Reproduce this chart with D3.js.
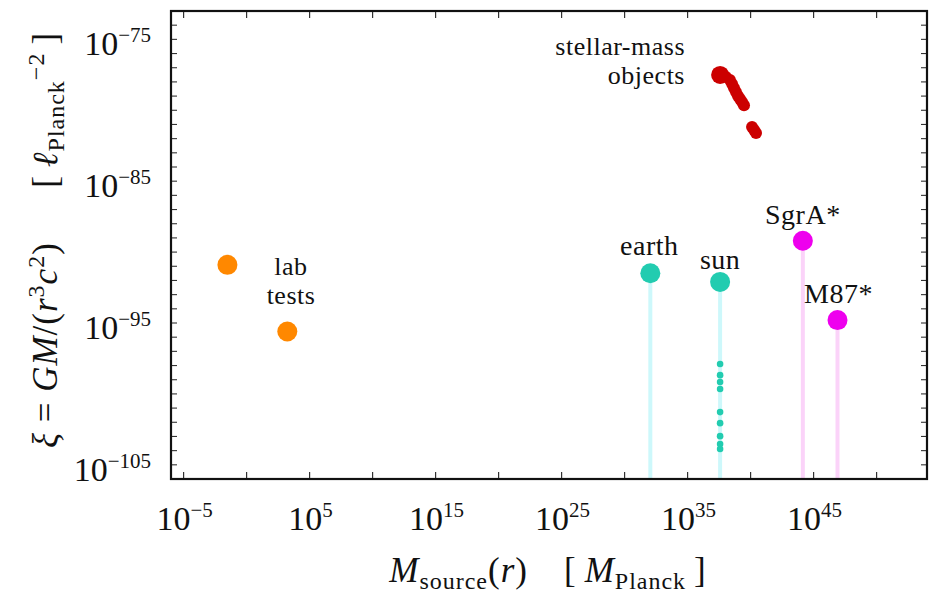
<!DOCTYPE html>
<html><head><meta charset="utf-8">
<script src="https://cdn.jsdelivr.net/npm/d3@7"></script>
<style>body{margin:0;background:#fff}svg{display:block}text{font-family:"Liberation Serif","DejaVu Serif",serif;fill:#111}</style>
</head><body><svg id="c" width="930" height="594"></svg>
<script>
// ---- data (M in Planck masses, xi in Planck length^-2) ----
const labM = [3.0e-2, 1.7e3];
const labXi = [1.26e-91, 2.5e-96];
const bodyNames = ["earth", "sun"];
const bodyM = [1.1e32, 3.8e37];
const bodyXi = [3.2e-92, 7.9e-93];
const bhNames = ["SgrA*", "M87*"];
const bhM = [1.4e44, 7.9e46];
const bhXi = [6.3e-90, 1.6e-95];
const sunInteriorM = [3.8e37, 3.8e37, 3.8e37, 3.8e37, 3.8e37, 3.8e37, 3.8e37, 3.8e37, 3.8e37];
const sunInteriorXi = [1.3e-98, 2.1e-99, 6.9e-100, 2.2e-100, 5.2e-102, 8.7e-103, 1.05e-103, 2.9e-104, 1.3e-104];
const stellarM = [3.8e37, 1.1e38, 2.3e38, 3.4e38, 4.8e38, 6.9e38, 1.0e39, 1.45e39, 2.1e39, 3.0e39, 1.3e40, 1.9e40, 2.7e40];
const stellarXi = [3.1e-78, 2.2e-78, 1.35e-78, 7.1e-79, 3.7e-79, 1.95e-79, 1.0e-79, 6.2e-80, 3.8e-80, 2.3e-80, 6.6e-82, 4.1e-82, 2.5e-82];
const xTickExp = [-5, 5, 15, 25, 35, 45];
const yTickExp = [-75, -85, -95, -105];

const svg = d3.select("#c");
const L = 171, R = 927, T = 11, B = 479;
const x = d3.scaleLog().domain([1e-6, 1e54]).range([L, R]);
const y = d3.scaleLog().domain([1e-106, 1e-73]).range([B, T]);

// vertical stems
const stemCyan = "#cdf8fb", stemPink = "#fbd3f9";
svg.selectAll(".stemB").data(bodyM).join("line")
  .attr("x1", d => x(d)).attr("x2", d => x(d))
  .attr("y1", (d, i) => y(bodyXi[i])).attr("y2", B)
  .attr("stroke", stemCyan).attr("stroke-width", 4);
svg.selectAll(".stemH").data(bhM).join("line")
  .attr("x1", d => x(d)).attr("x2", d => x(d))
  .attr("y1", (d, i) => y(bhXi[i])).attr("y2", B)
  .attr("stroke", stemPink).attr("stroke-width", 4);

// ticks
const g = svg.append("g");
const xMaj = d3.range(-5, 51, 5).map(e => Math.pow(10, e));
xMaj.forEach(v => {
  g.append("line").attr("x1", x(v)).attr("x2", x(v)).attr("y1", B).attr("y2", B - 7).attr("stroke", "#333").attr("stroke-width", 1.2);
  g.append("line").attr("x1", x(v)).attr("x2", x(v)).attr("y1", T).attr("y2", T + 7).attr("stroke", "#333").attr("stroke-width", 1.2);
});
const yMin = d3.range(-105, -73, 1).map(e => Math.pow(10, e));
yMin.forEach(v => {
  g.append("line").attr("x1", L).attr("x2", L + 6).attr("y1", y(v)).attr("y2", y(v)).attr("stroke", "#333").attr("stroke-width", 1.1);
  g.append("line").attr("x1", R).attr("x2", R - 6).attr("y1", y(v)).attr("y2", y(v)).attr("stroke", "#333").attr("stroke-width", 1.1);
});

// frame
svg.append("rect").attr("x", L).attr("y", T).attr("width", R - L).attr("height", B - T)
  .attr("fill", "none").attr("stroke", "#111").attr("stroke-width", 2.2);

// tick labels
xTickExp.forEach(e => {
  const t = svg.append("text").attr("x", x(Math.pow(10, e)) + 1).attr("y", 530).attr("text-anchor", "middle").style("font-size", "34px");
  t.append("tspan").text("10");
  t.append("tspan").attr("dy", -13).style("font-size", "21px").text(e < 0 ? "−" + (-e) : String(e));
});
yTickExp.forEach(e => {
  const t = svg.append("text").attr("x", 151).attr("y", y(Math.pow(10, e)) + 16).attr("text-anchor", "end").style("font-size", "34px");
  t.append("tspan").text("10");
  t.append("tspan").attr("dy", -13).style("font-size", "21px").text("−" + (-e));
});

// points
const teal = "#22ccb0", orange = "#ff8800", mag = "#ee00ee", red = "#cc0000";
svg.selectAll(".lab").data(labM).join("circle")
  .attr("cx", d => x(d)).attr("cy", (d, i) => y(labXi[i])).attr("r", 10).attr("fill", orange);
svg.selectAll(".body").data(bodyM).join("circle")
  .attr("cx", d => x(d)).attr("cy", (d, i) => y(bodyXi[i])).attr("r", 10).attr("fill", teal);
svg.selectAll(".bh").data(bhM).join("circle")
  .attr("cx", d => x(d)).attr("cy", (d, i) => y(bhXi[i])).attr("r", 10).attr("fill", mag);
svg.selectAll(".sunin").data(sunInteriorM).join("circle")
  .attr("cx", d => x(d)).attr("cy", (d, i) => y(sunInteriorXi[i])).attr("r", 3.3).attr("fill", teal);
svg.selectAll(".stellar").data(stellarM).join("circle")
  .attr("cx", d => x(d)).attr("cy", (d, i) => y(stellarXi[i])).attr("r", (d, i) => i === 0 ? 9 : 6).attr("fill", red);

// annotations
const ann = (txt, px, py, anchor, size) => svg.append("text").attr("x", px).attr("y", py)
  .attr("text-anchor", anchor || "middle").style("font-size", (size || 28) + "px").style("letter-spacing", "0.5px").text(txt);
ann("stellar-mass", 685, 55, "end", 26);
ann("objects", 685, 84, "end", 26);
ann("lab", 291, 275, "middle", 26);
ann("tests", 291, 304, "middle", 26);
ann(bodyNames[0], x(bodyM[0]) - 1, 255);
ann(bodyNames[1], x(bodyM[1]), 269);
ann(bhNames[0], x(bhM[0]), 224);
ann(bhNames[1], x(bhM[1]) + 1, 303);

// x axis label
const xl = svg.append("text").attr("x", 548).attr("y", 582).attr("text-anchor", "middle").style("font-size", "35px").style("letter-spacing", "1px");
xl.append("tspan").style("font-style", "italic").text("M");
xl.append("tspan").attr("dy", 7).style("font-size", "24px").text("source");
xl.append("tspan").attr("dy", -7).text("(");
xl.append("tspan").style("font-style", "italic").text("r");
xl.append("tspan").text(")\u2003[\u2009");
xl.append("tspan").style("font-style", "italic").text("M");
xl.append("tspan").attr("dy", 7).style("font-size", "24px").text("Planck");
xl.append("tspan").attr("dy", -7).text("\u2009]");

// y axis label
const yl = svg.append("text").attr("transform", "translate(57,240) rotate(-90)").attr("text-anchor", "middle").style("font-size", "35px").style("letter-spacing", "1px");
yl.append("tspan").style("font-style", "italic").text("ξ");
yl.append("tspan").text(" = ");
yl.append("tspan").style("font-style", "italic").text("GM");
yl.append("tspan").text("/(");
yl.append("tspan").style("font-style", "italic").text("r");
yl.append("tspan").attr("dy", -13).style("font-size", "24px").text("3");
yl.append("tspan").attr("dy", 13).style("font-style", "italic").text("c");
yl.append("tspan").attr("dy", -13).style("font-size", "24px").text("2");
yl.append("tspan").attr("dy", 13).text(")\u2003\u2002[\u2009");
yl.append("tspan").style("font-style", "italic").text("ℓ");
yl.append("tspan").attr("dy", 7).style("font-size", "24px").text("Planck");
yl.append("tspan").attr("dy", -20).style("font-size", "24px").text("−2");
yl.append("tspan").attr("dy", 13).text("\u2009]");
</script></body></html>
